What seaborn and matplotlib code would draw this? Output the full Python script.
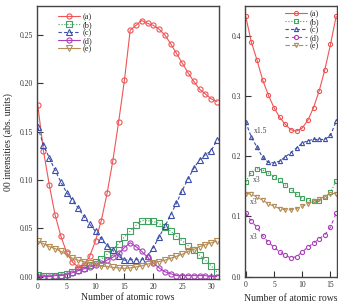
import numpy as np
import pandas as pd
import seaborn as sns
import matplotlib
matplotlib.use('Agg')
import matplotlib.pyplot as plt

# ---- data ----
rows_left = list(range(32))
a_left = [0.178, 0.130, 0.095, 0.064, 0.042, 0.025, 0.015, 0.010, 0.012, 0.021, 0.037, 0.058,
          0.086, 0.120, 0.160, 0.203, 0.255, 0.260, 0.265, 0.262, 0.260, 0.256, 0.250, 0.241,
          0.231, 0.221, 0.211, 0.202, 0.194, 0.189, 0.184, 0.181]
b_left = [0.002, 0.001, 0.001, 0.001, 0.002, 0.003, 0.005, 0.007, 0.009, 0.012, 0.015, 0.018,
          0.023, 0.028, 0.034, 0.041, 0.047, 0.053, 0.058, 0.058, 0.057, 0.055, 0.051, 0.047,
          0.042, 0.037, 0.032, 0.028, 0.022, 0.017, 0.011, 0.005]
c_left = [0.155, 0.136, 0.123, 0.110, 0.098, 0.087, 0.079, 0.071, 0.062, 0.054, 0.047, 0.039,
          0.032, 0.027, 0.021, 0.017, 0.0175, 0.0175, 0.0175, 0.021, 0.030, 0.041, 0.052, 0.064,
          0.076, 0.089, 0.101, 0.112, 0.121, 0.126, 0.130, 0.141]
d_left = [0.000, 0.000, 0.000, 0.001, 0.001, 0.002, 0.004, 0.006, 0.008, 0.010, 0.012, 0.014,
          0.017, 0.020, 0.024, 0.030, 0.035, 0.031, 0.026, 0.020, 0.014, 0.009, 0.005, 0.003,
          0.001, 0.001, 0.001, 0.001, 0.001, 0.001, 0.000, 0.000]
e_left = [0.0365, 0.034, 0.031, 0.029, 0.026, 0.023, 0.019, 0.017, 0.0155, 0.014, 0.013, 0.011,
          0.0105, 0.0095, 0.009, 0.0085, 0.009, 0.010, 0.011, 0.013, 0.014, 0.0155, 0.017, 0.019,
          0.021, 0.023, 0.026, 0.028, 0.031, 0.033, 0.035, 0.0365]

rows_right = list(range(17))
a_right = [0.433, 0.390, 0.360, 0.327, 0.302, 0.281, 0.265, 0.253, 0.244, 0.242, 0.247, 0.260,
           0.281, 0.309, 0.344, 0.386, 0.433]
b_right = [0.158, 0.173, 0.1795, 0.177, 0.172, 0.166, 0.160, 0.152, 0.1445, 0.137, 0.130, 0.127,
           0.125, 0.125, 0.132, 0.140, 0.159]
c_right = [0.257, 0.232, 0.215, 0.198, 0.190, 0.189, 0.192, 0.199, 0.206, 0.214, 0.222, 0.226,
           0.228, 0.228, 0.228, 0.235, 0.258]
d_right = [0.106, 0.092, 0.082, 0.068, 0.057, 0.049, 0.041, 0.035, 0.031, 0.033, 0.041, 0.049,
           0.0555, 0.063, 0.0695, 0.082, 0.1055]
e_right = [0.138, 0.137, 0.132, 0.127, 0.121, 0.117, 0.113, 0.111, 0.111, 0.113, 0.117, 0.121,
           0.1255, 0.1295, 0.133, 0.138, 0.138]

labels = ['(a)', '(b)', '(c)', '(d)', '(e)']
scale_notes = ['x1.5', 'x3', 'x3', 'x3']

colors = ['#ef5555', '#3fa35f', '#3b4ea8', '#ac40bc', '#b48c55']
markers = ['o', 's', '^', 'o', 'v']
styles_left = ['-', ':', (0, (3, 2)), '-', '-']
styles_right = ['-', ':', (0, (3, 2)), (0, (3, 3)), (0, (4, 2))]

sns.set_style('ticks')
plt.rcParams['font.family'] = ['Liberation Serif', 'DejaVu Serif']

fig = plt.figure(figsize=(3.38, 3.02), dpi=100)
ax1 = fig.add_axes([0.1095, 0.0778, 0.537, 0.9023])
ax2 = fig.add_axes([0.7249, 0.0844, 0.2713, 0.8957])


def draw(ax, x, series, styles, ms):
    for i, y in enumerate(series):
        df = pd.DataFrame({'x': x, 'y': y})
        sns.lineplot(data=df, x='x', y='y', ax=ax, color=colors[i], linestyle=styles[i],
                     linewidth=0.8, marker=markers[i], markersize=ms,
                     markerfacecolor='none', markeredgecolor=colors[i], markeredgewidth=0.8,
                     label=labels[i])


draw(ax1, rows_left, [a_left, b_left, c_left, d_left, e_left], styles_left, 3.7)
draw(ax2, rows_right, [a_right, b_right, c_right, d_right, e_right], styles_right, 3.0)

ax1.set_xlim(-0.12, 31.28)
ax1.set_ylim(-0.002, 0.28)
ax1.set_xticks([0, 5, 10, 15, 20, 25, 30])
ax1.set_yticks([0.0, 0.05, 0.10, 0.15, 0.20, 0.25])
ax1.set_yticklabels(['%.2f' % v for v in [0.0, 0.05, 0.10, 0.15, 0.20, 0.25]])
ax1.set_ylabel('00 intensities (abs. units)', fontsize=7, labelpad=5)

ax2.set_xlim(-0.12, 16.1)
ax2.set_ylim(0, 0.45)
ax2.set_xticks([0, 5, 10, 15])
ax2.set_yticks([0.0, 0.1, 0.2, 0.3, 0.4])
ax2.set_yticklabels(['%.1f' % v for v in [0.0, 0.1, 0.2, 0.3, 0.4]])
ax2.set_ylabel('')

for ax, pad in ((ax1, 1.8), (ax2, 3.5)):
    ax.set_xlabel('Number of atomic rows', fontsize=7, labelpad=pad)
    ax.tick_params(direction='in', length=4, width=0.8, labelsize=5.5, pad=3,
                   colors='#333333')
    for sp in ax.spines.values():
        sp.set_linewidth(1.0)
        sp.set_color('#444444')

leg_kw = dict(fontsize=6, frameon=False, handlelength=2.6, labelspacing=0.0,
              handletextpad=0.3, borderpad=0.0, borderaxespad=0.0)
ax1.legend(loc='upper left', bbox_to_anchor=(0.116, 0.975), **leg_kw)
ax2.legend(loc='upper left', bbox_to_anchor=(0.436, 0.985), **leg_kw)

# scale factor notes on the right panel
note_pos = [(1.4, 0.242), (1.2, 0.160), (0.8, 0.124), (0.8, 0.066)]
for txt, (xn, yn) in zip(scale_notes, note_pos):
    ax2.text(xn, yn, txt, fontsize=5.5, color='#444444', ha='left', va='center')

fig.savefig('out.png', dpi=100)
